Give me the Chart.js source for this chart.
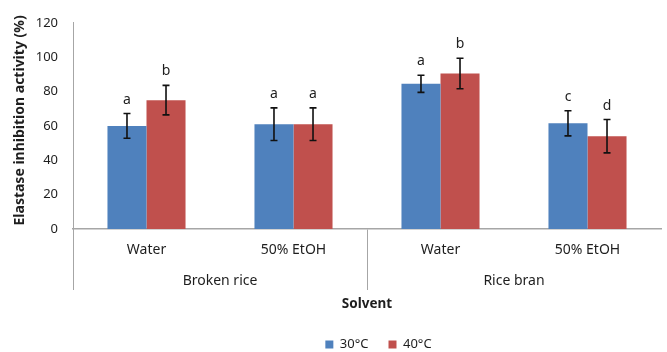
<!DOCTYPE html>
<html>
<head>
<meta charset="utf-8">
<script src="https://cdn.jsdelivr.net/npm/chart.js@4/dist/chart.umd.min.js"></script>
<style>
  html, body { margin: 0; padding: 0; background: #fff; }
  #wrap { width: 667px; height: 352px; position: relative; }
</style>
</head>
<body>
<div id="wrap"><canvas id="c"></canvas></div>
<script>
const solvents = ['Water', '50% EtOH', 'Water', '50% EtOH'];
const materials = ['Broken rice', 'Rice bran'];
const seriesNames = ['30°C', '40°C'];
const values30 = [60, 61, 84.5, 61.5];
const values40 = [75, 61, 90.5, 54];
const err30 = [7.2, 9.5, 5, 7.3];
const err40 = [8.6, 9.5, 8.9, 9.7];
const letters30 = ['a', 'a', 'a', 'c'];
const letters40 = ['b', 'a', 'b', 'd'];
const yTicks = [0, 20, 40, 60, 80, 100, 120];

const FONT = "'Noto Sans', 'Open Sans', sans-serif";
const TXT = '#1e1e1e';
const AXIS = '#a6a6a6';

const errorPlugin = {
  id: 'errorBars',
  afterDatasetsDraw(chart) {
    const ctx = chart.ctx;
    const y = chart.scales.y;
    chart.data.datasets.forEach((ds, di) => {
      const meta = chart.getDatasetMeta(di);
      meta.data.forEach((bar, i) => {
        const v = ds.data[i];
        const e = ds.errors[i];
        const x = bar.x;
        const yt = y.getPixelForValue(v + e);
        const yb = y.getPixelForValue(v - e);
        ctx.save();
        ctx.strokeStyle = '#111';
        ctx.lineWidth = 1.6;
        ctx.beginPath();
        ctx.moveTo(x, yt); ctx.lineTo(x, yb);
        ctx.moveTo(x - 3.5, yt); ctx.lineTo(x + 3.5, yt);
        ctx.moveTo(x - 3.5, yb); ctx.lineTo(x + 3.5, yb);
        ctx.stroke();
        ctx.fillStyle = TXT;
        ctx.font = "14px " + FONT;
        ctx.textAlign = 'center';
        ctx.textBaseline = 'middle';
        ctx.fillText(ds.letters[i], x, yt - 14);
        ctx.restore();
      });
    });
  }
};

const legendPlacePlugin = {
  id: 'legendPlace',
  beforeInit(chart) {
    const lg = chart.legend;
    if (!lg) return;
    const orig = lg.fit;
    lg.fit = function () { orig.call(this); this.height = 34; };
  },
  afterLayout(chart) {
    const lg = chart.legend;
    if (!lg) return;
    lg.left += 42;
    lg.right += 42;
  }
};

new Chart(document.getElementById('c'), {
  type: 'bar',
  data: {
    labels: solvents,
    datasets: [
      { label: seriesNames[0], data: values30, errors: err30, letters: letters30,
        backgroundColor: '#4f81bd', borderWidth: 0 },
      { label: seriesNames[1], data: values40, errors: err40, letters: letters40,
        backgroundColor: '#c0504d', borderWidth: 0 }
    ]
  },
  options: {
    responsive: true,
    maintainAspectRatio: false,
    animation: false,
    devicePixelRatio: 1,
    layout: { padding: { left: 12, right: 6, top: 20, bottom: 0 } },
    datasets: { bar: { categoryPercentage: 0.531, barPercentage: 1.0 } },
    plugins: {
      legend: {
        position: 'bottom',
        labels: {
          boxWidth: 8, boxHeight: 8, padding: 20,
          color: TXT, font: { family: FONT, size: 13 }
        }
      },
      tooltip: { enabled: false }
    },
    scales: {
      x: {
        type: 'category',
        position: 'bottom',
        weight: 0,
        offset: true,
        grid: {
          offset: true,
          drawOnChartArea: false,
          drawTicks: true,
          tickLength: 61,
          lineWidth: 1,
          color: (c) => (c.index % 2 === 0 ? AXIS : 'rgba(0,0,0,0)')
        },
        border: { display: true, color: AXIS, width: 1.5 },
        ticks: { padding: -48, color: TXT, font: { family: FONT, size: 14 }, maxRotation: 0, autoSkip: false },
        afterFit: (s) => { s.height = 38; }
      },
      x2: {
        type: 'category',
        position: 'bottom',
        weight: 1,
        labels: materials,
        offset: true,
        grid: { display: false },
        border: { display: false },
        ticks: { padding: -2, color: TXT, font: { family: FONT, size: 14 }, maxRotation: 0 },
        title: { display: true, text: 'Solvent', color: TXT,
                 font: { family: FONT, size: 13.5, weight: 'bold' }, padding: { top: 0, bottom: 6 } },
        afterFit: (s) => { s.height = 51; }
      },
      y: {
        type: 'linear',
        min: 0,
        max: 120,
        afterBuildTicks: (s) => { s.ticks = yTicks.map(v => ({ value: v })); },
        grid: { display: false, drawTicks: false },
        border: { display: true, color: AXIS, width: 1 },
        ticks: { padding: 15, color: TXT, font: { family: FONT, size: 13 } },
        title: { display: true, text: '   Elastase inhibition activity (%)', color: TXT,
                 font: { family: FONT, size: 14, weight: 'bold' }, padding: 0 },
        afterFit: (s) => { s.width = 61; }
      }
    }
  },
  plugins: [errorPlugin, legendPlacePlugin]
});
</script>
</body>
</html>
